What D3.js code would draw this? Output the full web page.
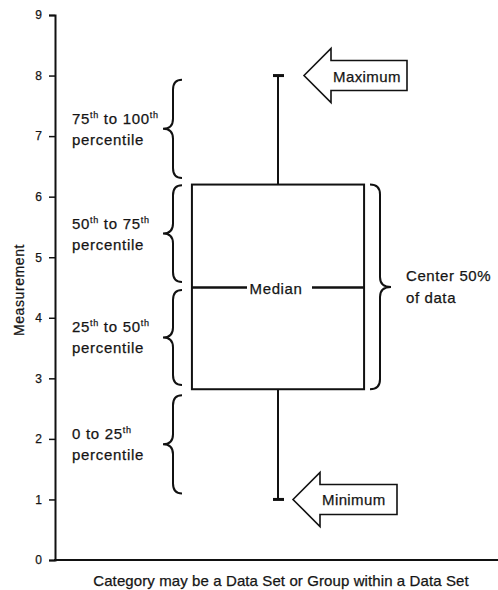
<!DOCTYPE html>
<html>
<head>
<meta charset="utf-8">
<script src="https://cdn.jsdelivr.net/npm/d3@7"></script>
<style>
  html, body { margin: 0; padding: 0; background: #fff; }
  text { font-family: "Liberation Sans", Arial, sans-serif; fill: #151515; stroke: #151515; stroke-width: 0.25px; }
</style>
</head>
<body>
<svg id="chart" width="498" height="590"></svg>
<script>
// ---- data ----
const categories = ["Category"];
const yTicks = [0, 1, 2, 3, 4, 5, 6, 7, 8, 9];
const boxStats = { min: 1.0, q1: 2.82, median: 4.5, q3: 6.2, max: 8.0 };
const percentileLabels = [
  ["75", "th", " to 100", "th"],
  ["50", "th", " to 75", "th"],
  ["25", "th", " to 50", "th"],
  ["0 to 25", "th"]
];
const braceSpans = [[6.31, 7.93], [4.59, 6.19], [2.89, 4.46], [1.1, 2.72]];
const centerLabel = ["Center 50%", "of data"];
const arrowLabels = ["Maximum", "Minimum"];
const yTitle = "Measurement";
const xTitle = "Category may be a Data Set or Group within a Data Set";

// ---- drawing ----
const svg = d3.select("#chart");
const y = d3.scaleLinear().domain([0, 9]).range([560, 15]);
const x = d3.scaleBand().domain(categories).range([55, 501]);
const cx = x(categories[0]) + x.bandwidth() / 2;
const boxW = x.bandwidth() * 0.386;

// axes
const yAxis = d3.axisLeft(y).tickValues(yTicks).tickFormat(d3.format("d")).tickSize(6).tickPadding(7);
const gy = svg.append("g").attr("transform", "translate(55,0)").call(yAxis);
gy.select(".domain").attr("stroke", "#111").attr("stroke-width", 2);
gy.selectAll(".tick line").attr("stroke", "#111").attr("stroke-width", 1.5);
gy.selectAll(".tick text").attr("font-size", 12).attr("font-family", "Liberation Sans, Arial, sans-serif")
  .attr("fill", "#151515").attr("stroke", "#151515").attr("stroke-width", 0.3);

const xAxis = d3.axisBottom(x).tickSize(0).tickFormat("");
const gx = svg.append("g").attr("transform", "translate(0,560)").call(xAxis);
gx.select(".domain").attr("stroke", "#111").attr("stroke-width", 2).attr("d", "M54,0H498");

svg.append("text").attr("transform", "translate(24,290) rotate(-90)")
  .attr("text-anchor", "middle").attr("font-size", 14).attr("letter-spacing", 0.6).text(yTitle);
svg.append("text").attr("x", 281).attr("y", 586)
  .attr("text-anchor", "middle").attr("font-size", 15).attr("letter-spacing", 0.1).text(xTitle);

// whiskers
const wg = svg.append("g").attr("stroke", "#111");
wg.append("line").attr("x1", cx).attr("x2", cx).attr("y1", y(boxStats.max)).attr("y2", y(boxStats.q3)).attr("stroke-width", 2);
wg.append("line").attr("x1", cx).attr("x2", cx).attr("y1", y(boxStats.q1)).attr("y2", y(boxStats.min)).attr("stroke-width", 2);
[boxStats.max, boxStats.min].forEach(v => {
  wg.append("line").attr("x1", cx - 5).attr("x2", cx + 6).attr("y1", y(v)).attr("y2", y(v)).attr("stroke-width", 3);
});

// box
svg.append("rect").attr("x", cx - boxW / 2).attr("y", y(boxStats.q3))
  .attr("width", boxW).attr("height", y(boxStats.q1) - y(boxStats.q3))
  .attr("fill", "none").attr("stroke", "#111").attr("stroke-width", 2);
// median with label gap
const my = y(boxStats.median);
svg.append("line").attr("x1", cx - boxW / 2).attr("x2", cx - 31).attr("y1", my).attr("y2", my).attr("stroke", "#111").attr("stroke-width", 2.5);
svg.append("line").attr("x1", cx + 34).attr("x2", cx + boxW / 2).attr("y1", my).attr("y2", my).attr("stroke", "#111").attr("stroke-width", 2.5);
svg.append("text").attr("x", cx - 2).attr("y", my + 6).attr("text-anchor", "middle")
  .attr("font-size", 15).attr("letter-spacing", 0.6).text("Median");

// brace path
function bracePath(s, y0, y1, dir, tip, end) {
  // dir = -1 : tip points left ("{"), dir = +1 : tip points right ("}")
  const ym = (y0 + y1) / 2, r = 10;
  const e = s - dir * end, t = s + dir * tip;
  return `M${e},${y0} Q${s},${y0} ${s},${y0 + r} L${s},${ym - r} Q${s},${ym} ${t},${ym}` +
         ` Q${s},${ym} ${s},${ym + r} L${s},${y1 - r} Q${s},${y1} ${e},${y1}`;
}

// left braces + labels
braceSpans.forEach((span, i) => {
  const y0 = y(span[1]), y1 = y(span[0]);
  svg.append("path").attr("d", bracePath(173, y0, y1, -1, 10, 9))
    .attr("fill", "none").attr("stroke", "#111").attr("stroke-width", 2);
  const ym = (y0 + y1) / 2;
  const t = svg.append("text").attr("x", 72).attr("y", ym - 5).attr("font-size", 15).attr("letter-spacing", 0.7);
  percentileLabels[i].forEach((seg, k) => {
    const sup = k % 2 === 1;
    t.append("tspan").attr("font-size", sup ? 9 : 15)
      .attr("dy", sup ? -6 : (k > 0 ? 6 : 0)).text(seg);
  });
  svg.append("text").attr("x", 72).attr("y", ym + 16).attr("font-size", 15).attr("letter-spacing", 0.7).text("percentile");
});

// right brace
const rb0 = y(boxStats.q3), rb1 = y(boxStats.q1);
svg.append("path").attr("d", bracePath(380, rb0, rb1, 1, 11, 10))
  .attr("fill", "none").attr("stroke", "#111").attr("stroke-width", 2);
const rbm = (rb0 + rb1) / 2;
centerLabel.forEach((s, i) => {
  svg.append("text").attr("x", 406).attr("y", rbm - 6 + i * 22).attr("font-size", 15).attr("letter-spacing", 0.6).text(s);
});

// arrows
function arrowPath(tx, ty, headLen, headH, shaftH, len) {
  const bx = tx + headLen, ex = tx + len;
  return `M${tx},${ty} L${bx},${ty - headH} L${bx},${ty - shaftH} L${ex},${ty - shaftH}` +
         ` L${ex},${ty + shaftH} L${bx},${ty + shaftH} L${bx},${ty + headH} Z`;
}
const arrows = [
  { v: boxStats.max, dx: 26, len: 103, label: arrowLabels[0] },
  { v: boxStats.min, dx: 15, len: 104, label: arrowLabels[1] }
];
arrows.forEach(a => {
  const tx = cx + a.dx, ty = y(a.v);
  svg.append("path").attr("d", arrowPath(tx, ty, 27, 27, 15, a.len))
    .attr("fill", "#fff").attr("stroke", "#111").attr("stroke-width", 1.6).attr("stroke-linejoin", "miter");
  svg.append("text").attr("x", tx + 29).attr("y", ty + 6).attr("font-size", 15).attr("letter-spacing", 0.4).text(a.label);
});
</script>
</body>
</html>
